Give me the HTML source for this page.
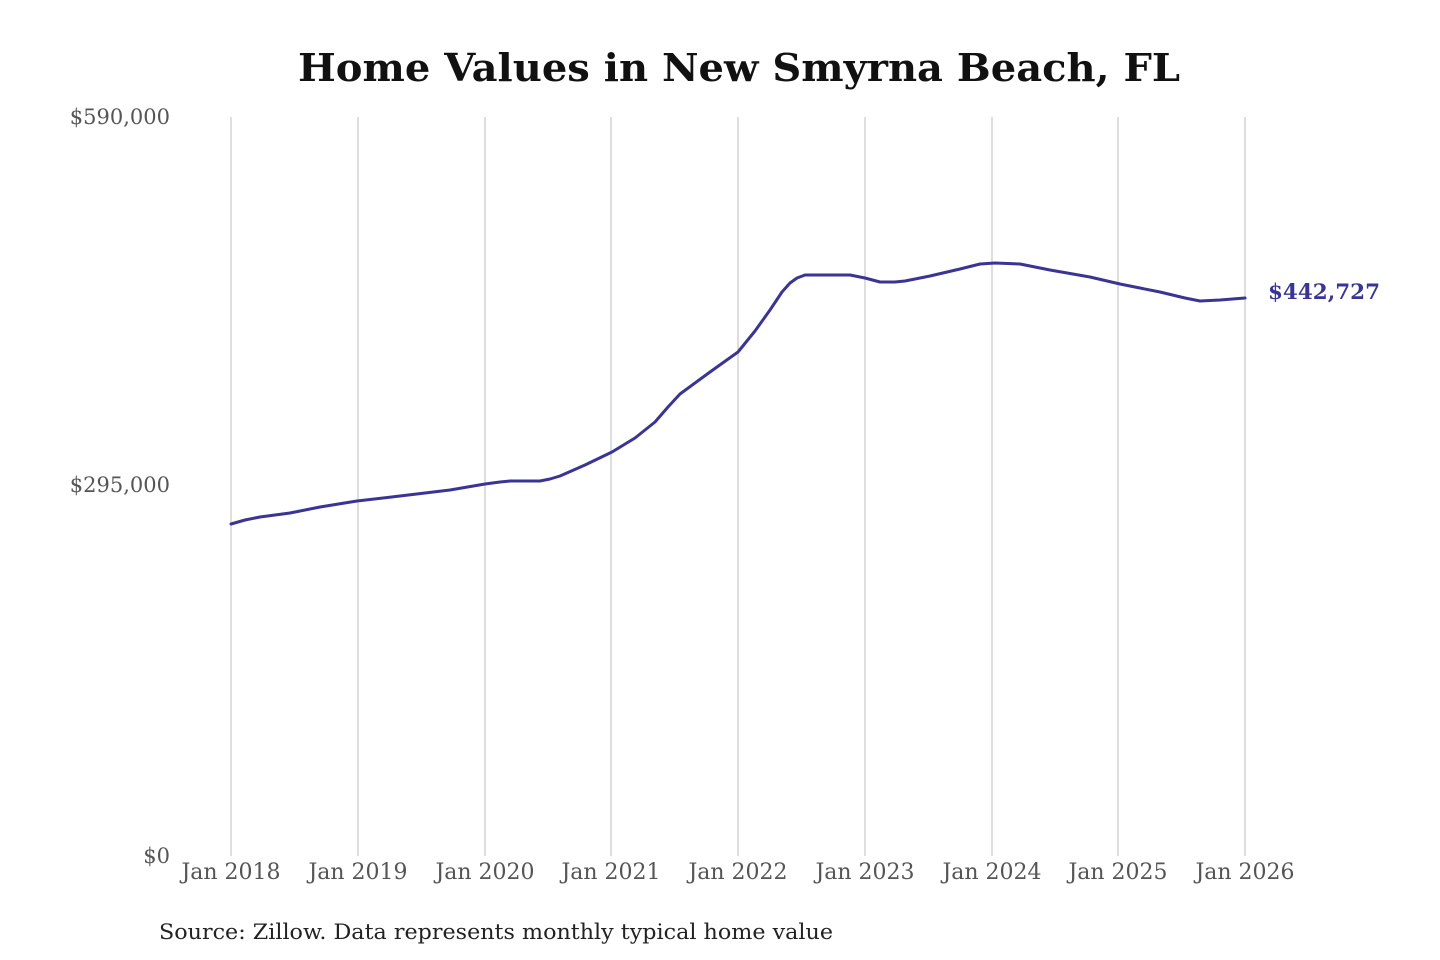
<!DOCTYPE html>
<html><head><meta charset="utf-8"><style>
html,body{margin:0;padding:0;background:#fff;}
svg{display:block;}
</style></head><body>
<svg width="1440" height="960" viewBox="0 0 1440 960" xmlns="http://www.w3.org/2000/svg">
<rect width="1440" height="960" fill="#fff"/>
<text x="739" y="81" text-anchor="middle" font-family="DejaVu Serif, serif" font-weight="bold" font-size="38" fill="#111" textLength="882" lengthAdjust="spacingAndGlyphs">Home Values in New Smyrna Beach, FL</text>
<g stroke="#c8c8c8" stroke-width="1.2">
<line x1="231" y1="117" x2="231" y2="856"/>
<line x1="358" y1="117" x2="358" y2="856"/>
<line x1="485" y1="117" x2="485" y2="856"/>
<line x1="611" y1="117" x2="611" y2="856"/>
<line x1="738" y1="117" x2="738" y2="856"/>
<line x1="865" y1="117" x2="865" y2="856"/>
<line x1="992" y1="117" x2="992" y2="856"/>
<line x1="1118" y1="117" x2="1118" y2="856"/>
<line x1="1245" y1="117" x2="1245" y2="856"/>
</g>
<g font-family="DejaVu Serif, serif" font-size="21" fill="#555">
<text x="170" y="124" text-anchor="end">$590,000</text>
<text x="170" y="492" text-anchor="end">$295,000</text>
<text x="170" y="863" text-anchor="end">$0</text>
<g text-anchor="middle" font-size="22">
<text x="231" y="879">Jan 2018</text>
<text x="358" y="879">Jan 2019</text>
<text x="485" y="879">Jan 2020</text>
<text x="611" y="879">Jan 2021</text>
<text x="738" y="879">Jan 2022</text>
<text x="865" y="879">Jan 2023</text>
<text x="992" y="879">Jan 2024</text>
<text x="1118" y="879">Jan 2025</text>
<text x="1245" y="879">Jan 2026</text>
</g>
</g>
<polyline fill="none" stroke="#3a3494" stroke-width="3" stroke-linejoin="round" stroke-linecap="round"
points="231,524 245,520 260,517 290,513 320,507 357,501 400,496 450,490 485,484 500,482 510,481 530,481 540,481 550,479 560,476 585,465 612,452 635,438 655,422 668,407 680,394 710,372 738,352 755,331 770,310 782,292 790,283 797,278 805,275 850,275 865,278 880,282 895,282 905,281 930,276 960,269 980,264 995,263 1020,264 1050,270 1090,277 1120,284 1160,292 1185,298 1200,301 1220,300 1245,298"/>
<text x="1268" y="299" font-family="DejaVu Serif, serif" font-weight="bold" font-size="21" fill="#3a3494" textLength="112" lengthAdjust="spacingAndGlyphs">$442,727</text>
<text x="159" y="939" font-family="DejaVu Serif, serif" font-size="21" fill="#222" textLength="674" lengthAdjust="spacingAndGlyphs">Source: Zillow. Data represents monthly typical home value</text>
</svg>
</body></html>
